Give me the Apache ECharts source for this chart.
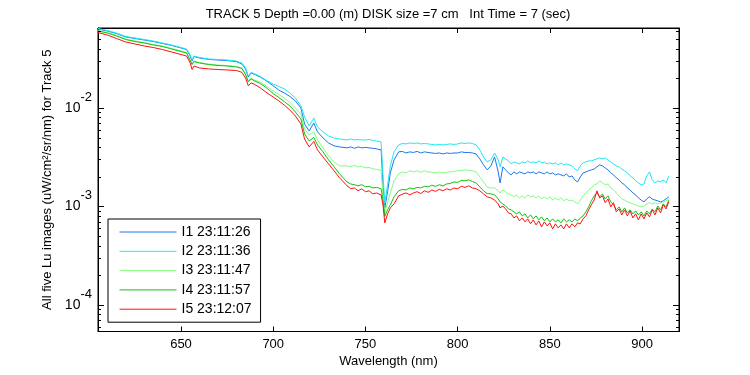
<!DOCTYPE html>
<html><head><meta charset="utf-8">
<script src="https://cdn.jsdelivr.net/npm/echarts@6/dist/echarts.min.js"></script>
<style>html,body{margin:0;padding:0;background:#fff}#c{width:750px;height:375px}</style>
</head><body><div id="c"></div>
<script>
const wavelength = [605,610,615,620,625,630,635,640,645,650,653,655,656,657,660,665,670,675,680,683,685,686.5,688,690,693,696,700,703,706,709,712,715,717,719.5,722,724,727,730,733,736,
740,742,744,746,748,750,752,754,756,758.5,759.5,760.5,762,763.5,765.5,768,770,772,774,776,778,780,782,784,786,788,790,792,794,796,798,800,802,804,806,808,810,812,814,816,818,820,822,823,824.5,
826,827.5,829,830.5,832,833.5,835,836.5,838,839.5,841,842.5,844,845.5,847,848.5,850,851.5,853,854.5,856,857.5,859,860.5,862,863.5,865,866.5,868,869.5,871,872.5,874,875.5,877,878.5,880,881.5,883,884.5,886,887.5,889,890.5,892,893.5,895,896.5,898,899.5,901,902.5,904,905.5,907,908.5,910,911.5,913,914.5];

const I1 = [.0634,.0605,.0570,.0526,.0508,.0490,.0473,.0452,.0431,.0407,.0392,.0337,.0300,.0333,.0322,.0311,.0307,.0303,.0296,.0280,.0249,.0206,.0227,.0219,.0206,.0190,.0168,.0152,.0142,.0131,.0118,.0100,.00688,.00584,.00704,.00571,.00496,.00441,.00412,.00402,
.00393,.00402,.00389,.00402,.00393,.00398,.00393,.00389,.00384,.00375,.00166,.000966,.00141,.00219,.00297,.00358,.00362,.00349,.00358,.00353,.00362,.00349,.00358,.00353,.00349,.00345,.00349,.00341,.00349,.00345,.00349,.00349,.00358,.00353,.00353,.00349,.00341,.00304,.00264,.00235,.00258,.00318,.00224,.00173,.00252,
.00235,.00219,.00209,.00224,.00214,.00224,.00219,.00214,.00224,.00219,.00224,.00214,.00224,.00219,.00214,.00224,.00214,.00219,.00209,.00214,.00209,.00204,.00214,.00199,.00204,.00186,.00177,.00199,.00219,.00224,.00230,.00235,.00240,.00252,.00264,.00258,.00246,.00235,.00219,.00209,.00195,.00186,.00173,.00166,.00154,.00147,.00137,.00131,.00122,.00116,.00111,.00119,.00125,.00119,.00116,.00114,.00111,.00114,.00119,.00125];

const I2 = [.0642,.0612,.0577,.0532,.0514,.0496,.0479,.0457,.0436,.0411,.0397,.0345,.0307,.0337,.0326,.0314,.0311,.0307,.0300,.0286,.0255,.0211,.0230,.0222,.0209,.0192,.0175,.0166,.0156,.0142,.0126,.0105,.00810,.00657,.00792,.00642,.00571,.00520,.00496,.00484,
.00473,.00484,.00473,.00478,.00473,.00473,.00478,.00468,.00462,.00452,.00209,.00109,.00166,.00258,.00358,.00421,.00436,.00431,.00441,.00436,.00441,.00431,.00436,.00431,.00426,.00421,.00426,.00421,.00426,.00431,.00426,.00431,.00441,.00436,.00441,.00436,.00421,.00375,.00318,.00283,.00297,.00349,.00297,.00252,.00318,
.00304,.00290,.00270,.00283,.00277,.00270,.00283,.00277,.00290,.00277,.00283,.00277,.00290,.00277,.00283,.00270,.00277,.00270,.00277,.00264,.00277,.00264,.00270,.00264,.00258,.00240,.00230,.00258,.00277,.00283,.00290,.00290,.00297,.00304,.00311,.00304,.00311,.00297,.00283,.00270,.00258,.00252,.00240,.00230,.00219,.00204,.00195,.00182,.00173,.00166,.00169,.00204,.00224,.00186,.00173,.00182,.00177,.00186,.00173,.00204];

const I3 = [.0612,.0584,.0545,.0502,.0479,.0462,.0441,.0426,.0402,.0379,.0366,.0307,.0280,.0300,.0290,.0280,.0273,.0270,.0264,.0255,.0222,.0188,.0202,.0192,.0182,.0168,.0149,.0137,.0126,.0114,.0100,.00869,.00612,.00532,.00571,.00473,.00393,.00326,.00283,.00258,
.00258,.00252,.00261,.00252,.00255,.00246,.00249,.00240,.00238,.00232,.00131,.000859,.00109,.00137,.00182,.00214,.00224,.00219,.00230,.00224,.00230,.00222,.00230,.00224,.00222,.00219,.00224,.00219,.00222,.00224,.00227,.00230,.00232,.00235,.00232,.00230,.00224,.00199,.00177,.00158,.00154,.00154,.00144,.00137,.00147,
.00141,.00134,.00131,.00125,.00131,.00122,.00128,.00122,.00131,.00125,.00128,.00122,.00128,.00119,.00125,.00119,.00125,.00116,.00122,.00116,.00122,.00114,.00119,.00114,.00116,.00111,.00106,.00116,.00128,.00137,.00147,.00154,.00166,.00169,.00182,.00173,.00166,.00169,.00154,.00147,.00137,.00128,.00119,.00116,.00111,.00109,.00106,.00104,.00101,.000989,.00101,.00106,.00109,.00106,.00109,.00106,.00109,.00111,.00114,.00119];

const I4 = [.0605,.0577,.0538,.0496,.0473,.0457,.0436,.0421,.0397,.0374,.0362,.0303,.0276,.0296,.0286,.0276,.0270,.0267,.0261,.0252,.0219,.0184,.0197,.0188,.0177,.0162,.0140,.0128,.0116,.0105,.00911,.00773,.00545,.00462,.00502,.00421,.00358,.00297,.00252,.00214,
.00177,.00169,.00166,.00162,.00166,.00158,.00160,.00154,.00156,.00151,.00116,.000792,.000922,.00104,.00125,.00144,.00149,.00147,.00154,.00151,.00156,.00154,.00160,.00158,.00164,.00160,.00166,.00162,.00169,.00171,.00177,.00175,.00184,.00182,.00186,.00179,.00173,.00158,.00144,.00135,.00134,.00131,.00119,.00111,.00106,
.00101,.000943,.000922,.000880,.000840,.000880,.000801,.000840,.000764,.000820,.000747,.000801,.000730,.000783,.000713,.000764,.000696,.000747,.000696,.000730,.000680,.000747,.000696,.000730,.000696,.000747,.000713,.000764,.000801,.000880,.000989,.00114,.00128,.00137,.00125,.00134,.00119,.00128,.00111,.00104,.000922,.000989,.000880,.000966,.000859,.000922,.000840,.000900,.000820,.000880,.000801,.000900,.000840,.000943,.000880,.00101,.000922,.00106,.000989,.00116];

const I5 = [.0584,.0551,.0508,.0468,.0447,.0426,.0411,.0392,.0370,.0349,.0337,.0286,.0246,.0267,.0255,.0249,.0246,.0243,.0240,.0230,.0202,.0168,.0180,.0173,.0160,.0145,.0129,.0118,.0107,.00954,.00829,.00688,.00484,.00402,.00457,.00375,.00318,.00270,.00230,.00195,
.00162,.00151,.00154,.00144,.00151,.00141,.00144,.00134,.00137,.00131,.00104,.000680,.000840,.000966,.00106,.00128,.00133,.00137,.00131,.00137,.00141,.00135,.00144,.00139,.00147,.00142,.00149,.00144,.00151,.00147,.00154,.00151,.00160,.00156,.00162,.00154,.00151,.00144,.00134,.00125,.00122,.00116,.00106,.000966,.00101,
.000943,.000859,.000840,.000764,.000801,.000713,.000764,.000696,.000747,.000665,.000730,.000649,.000713,.000620,.000696,.000634,.000680,.000591,.000665,.000605,.000649,.000591,.000665,.000605,.000665,.000620,.000680,.000665,.000747,.000801,.000922,.00104,.00116,.00144,.00122,.00128,.00109,.00119,.000989,.00109,.000880,.000943,.000820,.000922,.000801,.000900,.000764,.000840,.000730,.000840,.000747,.000859,.000783,.000922,.000820,.000966,.000859,.00104,.000943,.00111];

const seriesNames = ['I1 23:11:26','I2 23:11:36','I3 23:11:47','I4 23:11:57','I5 23:12:07'];
const seriesColors = ['#1a78ec','#1ee8ee','#84fb84','#12c212','#ff1010'];
const xTicks = [650,700,750,800,850,900];
const yMinorTicks = [6e-5,7e-5,8e-5,9e-5,2e-4,3e-4,4e-4,5e-4,6e-4,7e-4,8e-4,9e-4,2e-3,3e-3,4e-3,5e-3,6e-3,7e-3,8e-3,9e-3,2e-2,3e-2,4e-2,5e-2,6e-2];
const xMin = 605, xMax = 920;
const yMin = 5.36e-5, yMax = 0.0649;

const FONT = 'Liberation Sans';
const chart = echarts.init(document.getElementById('c'), null, {renderer:'canvas'});
const allData = [I1, I2, I3, I4, I5];

function yFmt(v){
  const e = Math.log10(v), r = Math.round(e);
  if (Math.abs(e - r) > 1e-6) return '';
  return '{b|10}{s|' + r + '}';
}

const series = allData.map((arr, i) => ({
  name: seriesNames[i], type:'line', symbol:'none', animation:false,
  data: wavelength.map((w, j) => [w, arr[j]]),
  lineStyle:{width:1, color:seriesColors[i]}, itemStyle:{color:seriesColors[i]},
  z: 2 + i
}));
series.push({
  type:'custom', silent:true, animation:false, clip:false, z:20,
  data: yMinorTicks.map(v => [xMin, v]),
  renderItem: (params, api) => {
    const v = api.value(1);
    const pl = api.coord([xMin, v]);
    const pr = api.coord([xMax, v]);
    const y = Math.round(pl[1]) + 0.5;
    return {type:'group', children:[
      {type:'line', shape:{x1:pl[0], y1:y, x2:pl[0]+3, y2:y}, style:{stroke:'#000', lineWidth:1}},
      {type:'line', shape:{x1:pr[0], y1:y, x2:pr[0]-3, y2:y}, style:{stroke:'#000', lineWidth:1}}
    ]};
  }
});

const xAxisBase = {
  type:'value', min:xMin, max:xMax, splitLine:{show:false},
  axisLine:{onZero:false, lineStyle:{color:'#000', width:1}},
  axisTick:{inside:true, length:5, customValues:xTicks, lineStyle:{color:'#000'}}
};
const yAxisBase = {
  type:'log', logBase:10, min:yMin, max:yMax, splitNumber:3, splitLine:{show:false},
  axisLine:{lineStyle:{color:'#000', width:1}},
  axisTick:{inside:true, length:6, lineStyle:{color:'#000'}},
  minorTick:{show:false}
};

chart.setOption({
  animation:false,
  backgroundColor:'#fff',
  title:{
    text:'TRACK 5 Depth =0.00 (m) DISK size =7 cm   Int Time = 7 (sec)',
    left:388, top:8, textAlign:'center', padding:0,
    textStyle:{fontFamily:FONT, fontSize:13, fontWeight:'normal', color:'#000'}
  },
  grid:{left:98, top:28, width:581, height:303.5, show:true, borderColor:'#000', borderWidth:1, backgroundColor:'transparent'},
  legend:{
    data:seriesNames, orient:'vertical', left:108, top:219,
    itemWidth:57, itemHeight:14, itemGap:5.3,
    padding:[6,9,6,11], borderColor:'#000', borderWidth:1, backgroundColor:'#fff',
    itemStyle:{opacity:0, borderWidth:0},
    lineStyle:{width:1},
    textStyle:{fontFamily:FONT, fontSize:14, color:'#000'},
    selectedMode:false
  },
  xAxis:[
    Object.assign({}, xAxisBase, {
      position:'bottom',
      name:'Wavelength (nm)', nameLocation:'middle', nameGap:17,
      nameTextStyle:{fontFamily:FONT, fontSize:13, color:'#000'},
      axisLabel:{customValues:xTicks, margin:6, fontFamily:FONT, fontSize:13, color:'#000'}
    }),
    Object.assign({}, xAxisBase, {position:'top', axisLabel:{show:false}})
  ],
  yAxis:[
    Object.assign({}, yAxisBase, {
      position:'left',
      name:'All five Lu images (uW/cm\u00B2/sr/nm) for Track 5', nameLocation:'middle', nameGap:42,
      nameTextStyle:{fontFamily:FONT, fontSize:13, color:'#000'},
      axisLabel:{
        formatter:yFmt, margin:6, fontFamily:FONT, color:'#000',
        rich:{
          b:{fontFamily:FONT, fontSize:14, color:'#000', lineHeight:34, verticalAlign:'middle'},
          s:{fontFamily:FONT, fontSize:13, color:'#000', lineHeight:16, verticalAlign:'top'}
        }
      }
    }),
    Object.assign({}, yAxisBase, {position:'right', axisLabel:{show:false}})
  ],
  series: series
});
</script></body></html>
